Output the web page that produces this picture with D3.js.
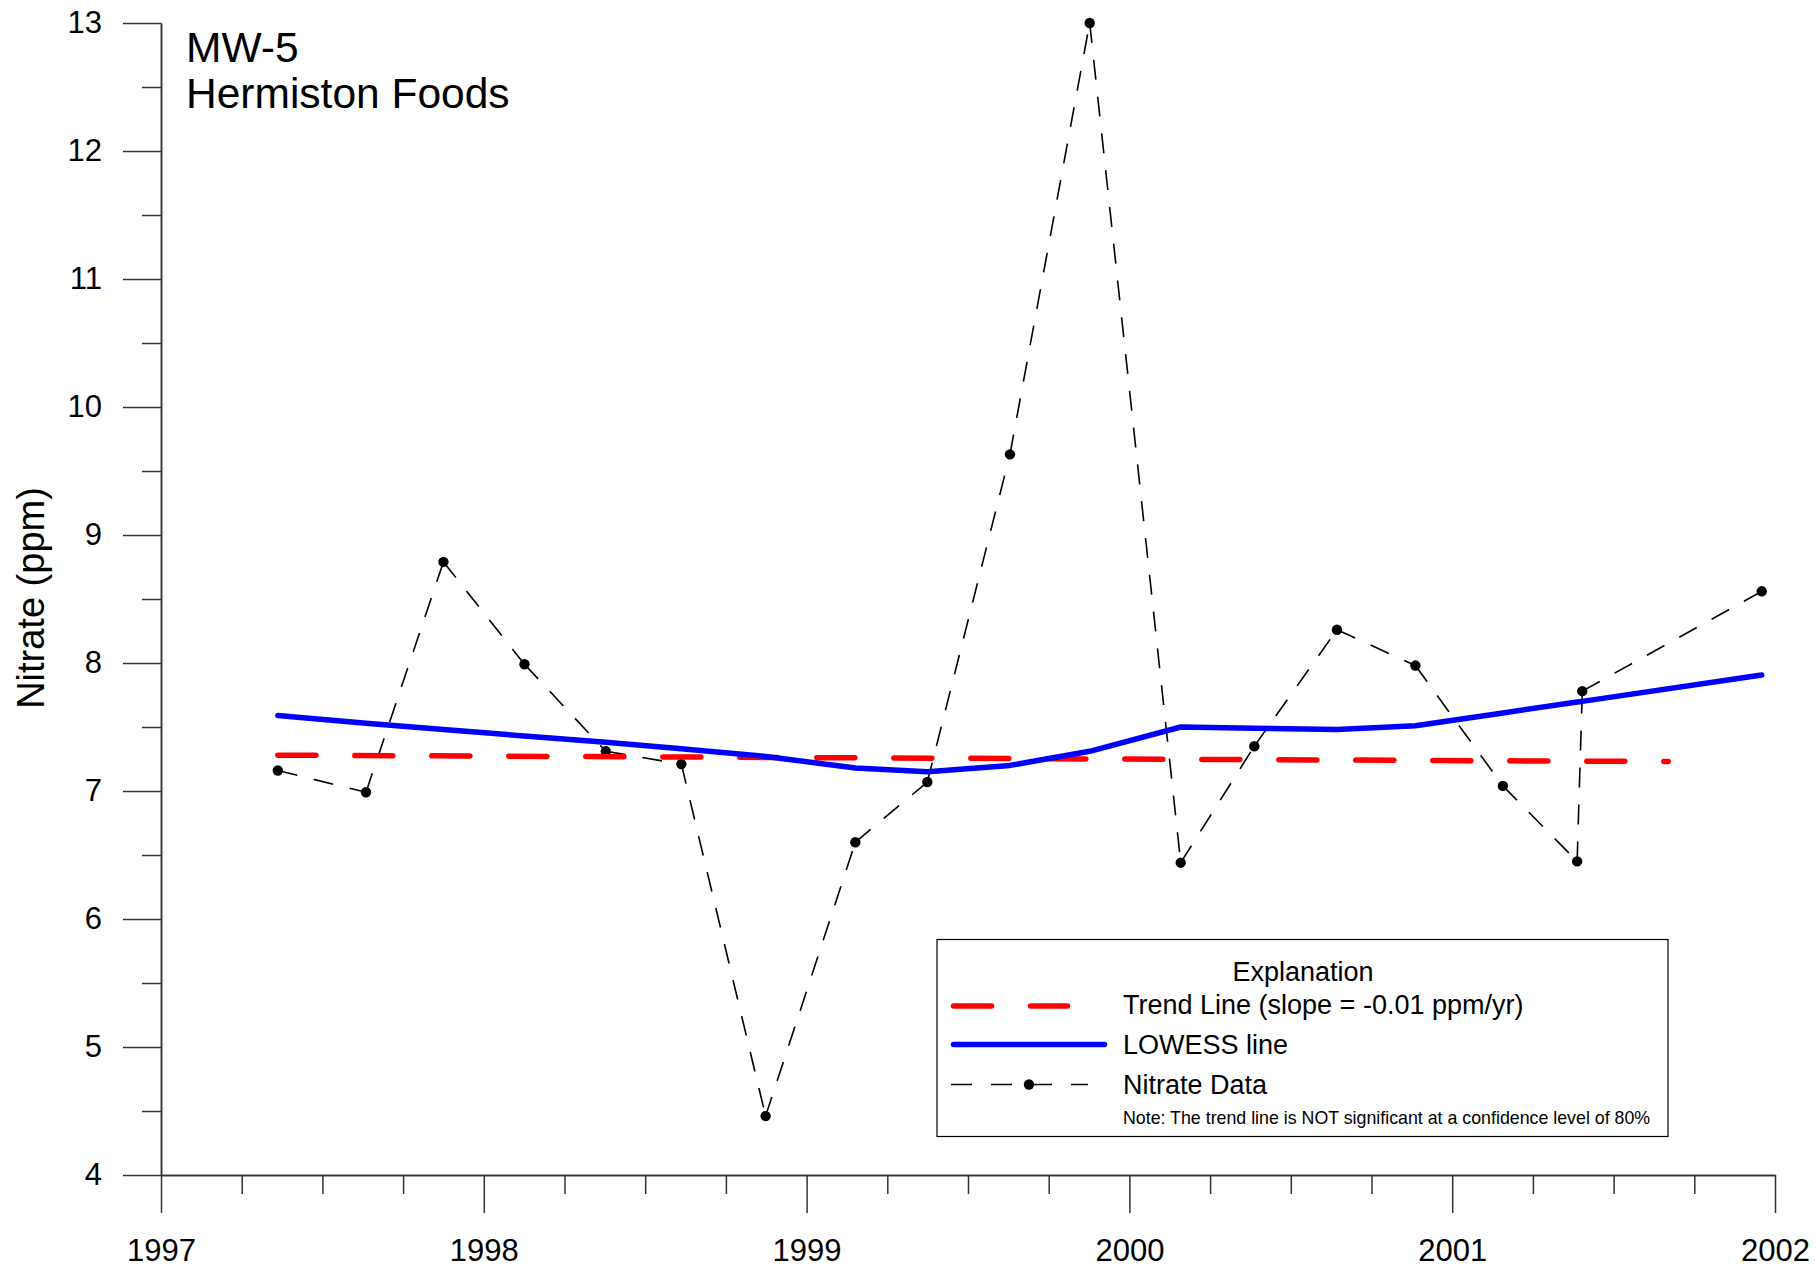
<!DOCTYPE html>
<html>
<head>
<meta charset="utf-8">
<script src="https://cdn.jsdelivr.net/npm/d3@7"></script>
<style>
  html, body { margin: 0; padding: 0; background: #fff; }
  svg { display: block; font-family: "Liberation Sans", Arial, sans-serif; }
</style>
</head>
<body>
<svg id="chart" width="1816" height="1268"></svg>
<script>
// ---- data ----
const sampleYears = [1997.362, 1997.635, 1997.875, 1998.126, 1998.378, 1998.612, 1998.873, 1999.151, 1999.374, 1999.630, 1999.877, 2000.159, 2000.387, 2000.643, 2000.886, 2001.157, 2001.387, 2001.403, 2001.959];
const nitrate = [7.16, 6.99, 8.79, 7.99, 7.31, 7.21, 4.46, 6.60, 7.07, 9.63, 13.0, 6.44, 7.35, 8.26, 7.98, 7.04, 6.45, 7.78, 8.56];
const lowess = [7.59, 7.53, 7.48, 7.43, 7.38, 7.33, 7.27, 7.18, 7.15, 7.20, 7.31, 7.50, 7.49, 7.48, 7.51, 7.61, 7.695, 7.70, 7.906];
const trendYears = [1997.362, 2001.669];
const trendValues = [7.28, 7.23];
const xTicks = [1997, 1998, 1999, 2000, 2001, 2002];
const yTicks = [4, 5, 6, 7, 8, 9, 10, 11, 12, 13];
const titleLines = ["MW-5", "Hermiston Foods"];
const yLabel = "Nitrate (ppm)";
const legendTitle = "Explanation";
const legendLabels = ["Trend Line (slope = -0.01 ppm/yr)", "LOWESS line", "Nitrate Data"];
const legendNote = "Note: The trend line is NOT significant at a confidence level of 80%";

// ---- setup ----
const svg = d3.select("#chart");
const x = d3.scaleLinear().domain([1997, 2002]).range([161, 1775]);
const y = d3.scaleLinear().domain([4, 13]).range([1175, 23]);
const axisColor = "#333";

// minor ticks
const xMinor = d3.range(1997, 2002.001, 0.25).filter(v => Math.abs(v - Math.round(v)) > 1e-6);
const yMinor = d3.range(4.5, 13, 1);

const gxMinor = svg.append("g").attr("transform", `translate(0,${y(4)})`)
  .call(d3.axisBottom(x).tickValues(xMinor).tickSize(19).tickSizeOuter(0).tickFormat(""));
const gx = svg.append("g").attr("transform", `translate(0,${y(4)})`)
  .call(d3.axisBottom(x).tickValues(xTicks).tickSize(38).tickSizeOuter(0).tickPadding(26).tickFormat(d3.format("d")));
const gyMinor = svg.append("g").attr("transform", `translate(${x(1997)},0)`)
  .call(d3.axisLeft(y).tickValues(yMinor).tickSize(19).tickSizeOuter(0).tickFormat(""));
const gy = svg.append("g").attr("transform", `translate(${x(1997)},0)`)
  .call(d3.axisLeft(y).tickValues(yTicks).tickSize(38).tickSizeOuter(0).tickPadding(21).tickFormat(d3.format("d")));

[gxMinor, gx, gyMinor, gy].forEach(g => {
  g.selectAll("path, line").attr("stroke", axisColor).attr("stroke-width", 1.5);
  g.selectAll("text").attr("font-family", "'Liberation Sans', Arial, sans-serif")
    .attr("font-size", 31).attr("fill", "#000");
});

// ---- nitrate data (dashed segments restarting at each sample) ----
const pts = sampleYears.map((t, i) => [t, nitrate[i]]);
const segs = d3.pairs(pts);
svg.append("g").selectAll("line").data(segs).join("line")
  .attr("x1", d => x(d[0][0])).attr("y1", d => y(d[0][1]))
  .attr("x2", d => x(d[1][0])).attr("y2", d => y(d[1][1]))
  .attr("stroke", "#000").attr("stroke-width", 1.6)
  .attr("stroke-dasharray", "20,17");
svg.append("g").selectAll("circle").data(pts).join("circle")
  .attr("cx", d => x(d[0])).attr("cy", d => y(d[1])).attr("r", 5.2).attr("fill", "#000");

// ---- trend line ----
const line = d3.line().x(d => x(d[0])).y(d => y(d[1]));
svg.append("path")
  .datum(trendYears.map((t, i) => [t, trendValues[i]]))
  .attr("d", line).attr("fill", "none")
  .attr("stroke", "#ff0000").attr("stroke-width", 5.5)
  .attr("stroke-linecap", "round").attr("stroke-dasharray", "38,39");

// ---- LOWESS ----
svg.append("path")
  .datum(sampleYears.map((t, i) => [t, lowess[i]]))
  .attr("d", line).attr("fill", "none")
  .attr("stroke", "#0000ff").attr("stroke-width", 5.5)
  .attr("stroke-linecap", "round").attr("stroke-linejoin", "round");

// ---- title ----
const title = svg.append("text").attr("x", 186).attr("font-size", 42.5).attr("fill", "#000");
titleLines.forEach((t, i) => {
  title.append("tspan").attr("x", 186).attr("y", i === 0 ? 62 : 108).text(t);
});

// ---- y label ----
svg.append("text")
  .attr("transform", "translate(44,598) rotate(-90)")
  .attr("text-anchor", "middle").attr("font-size", 38).attr("fill", "#000")
  .text(yLabel);

// ---- legend ----
const lg = svg.append("g");
lg.append("rect").attr("x", 937).attr("y", 939.5).attr("width", 731).attr("height", 197)
  .attr("fill", "#fff").attr("stroke", "#000").attr("stroke-width", 1.2);
lg.append("text").attr("x", 1303).attr("y", 981).attr("text-anchor", "middle")
  .attr("font-size", 27).attr("fill", "#000").text(legendTitle);
lg.append("line").attr("x1", 953.5).attr("x2", 1067.5).attr("y1", 1006).attr("y2", 1006)
  .attr("stroke", "#ff0000").attr("stroke-width", 5.5).attr("stroke-linecap", "round")
  .attr("stroke-dasharray", "38,39");
lg.append("line").attr("x1", 953.5).attr("x2", 1104.5).attr("y1", 1044.5).attr("y2", 1044.5)
  .attr("stroke", "#0000ff").attr("stroke-width", 5.5).attr("stroke-linecap", "round");
lg.append("line").attr("x1", 951).attr("x2", 1088).attr("y1", 1084.5).attr("y2", 1084.5)
  .attr("stroke", "#000").attr("stroke-width", 1.6).attr("stroke-dasharray", "21,19");
lg.append("circle").attr("cx", 1029).attr("cy", 1084.5).attr("r", 5.2).attr("fill", "#000");
const rowY = [1014, 1054, 1094];
legendLabels.forEach((t, i) => {
  lg.append("text").attr("x", 1123).attr("y", rowY[i]).attr("font-size", 27)
    .attr("fill", "#000").text(t);
});
lg.append("text").attr("x", 1123).attr("y", 1124).attr("font-size", 17.8)
  .attr("fill", "#000").text(legendNote);
</script>
</body>
</html>
